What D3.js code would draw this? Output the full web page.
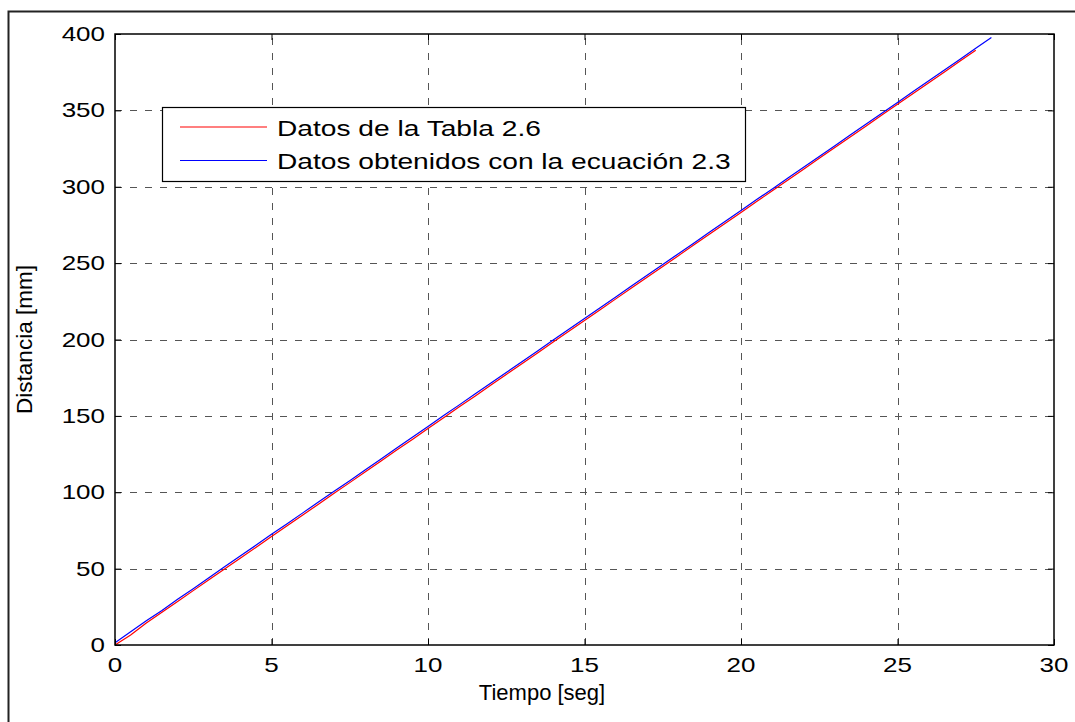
<!DOCTYPE html>
<html>
<head>
<meta charset="utf-8">
<script src="https://cdn.jsdelivr.net/npm/d3@7"></script>
<style>
  body { margin: 0; background: #fff; }
  svg { display: block; font-family: "Liberation Sans", Arial, sans-serif; }
</style>
</head>
<body>
<svg id="chart" width="1075" height="722"></svg>
<script>
// Data
var tiempoTabla = [0, 0.5, 1, 1.5, 2, 2.5, 3, 3.5, 4, 4.5, 5, 5.5, 6, 6.5, 7, 7.5, 8, 8.5, 9, 9.5,
  10, 10.5, 11, 11.5, 12, 12.5, 13, 13.5, 14, 14.5, 15, 15.5, 16, 16.5, 17, 17.5, 18, 18.5, 19, 19.5,
  20, 20.5, 21, 21.5, 22, 22.5, 23, 23.5, 24, 24.5, 25, 25.5, 26, 26.5, 27, 27.5];
var distTabla = [0, 6.5, 14.4, 21.4, 28.5, 35.6, 42.7, 49.7, 56.8, 63.9, 71, 78, 85.1, 92.2, 99.3, 106.3, 113.4, 120.5, 127.6, 134.6,
  141.7, 148.8, 155.9, 162.9, 170, 177.1, 184.2, 191.2, 198.3, 205.4, 212.5, 219.5, 226.6, 233.7, 240.8, 247.8, 254.9, 262, 269.1, 276.1,
  283.2, 290.3, 297.4, 304.4, 311.5, 318.6, 325.7, 332.7, 339.8, 346.9, 354, 361, 368.1, 375.2, 382.3, 389.3];

var tiempoEcuacion = [0, 0.5, 1, 1.5, 2, 2.5, 3, 3.5, 4, 4.5, 5, 5.5, 6, 6.5, 7, 7.5, 8, 8.5, 9, 9.5,
  10, 10.5, 11, 11.5, 12, 12.5, 13, 13.5, 14, 14.5, 15, 15.5, 16, 16.5, 17, 17.5, 18, 18.5, 19, 19.5,
  20, 20.5, 21, 21.5, 22, 22.5, 23, 23.5, 24, 24.5, 25, 25.5, 26, 26.5, 27, 27.5, 28];
var distEcuacion = [1.5, 8.6, 15.8, 22.6, 30, 36.9, 44, 51.2, 58.2, 65.3, 72.5, 79.4, 86.5, 93.6, 100.7, 107.6, 114.8, 121.8, 128.9, 136,
  143, 150.2, 157.2, 164.3, 171.3, 178.4, 185.5, 192.5, 199.6, 206.7, 213.8, 220.8, 227.9, 235, 242, 249.1, 256.2, 263.2, 270.3, 277.4,
  284.5, 291.6, 298.6, 305.7, 312.8, 319.8, 326.9, 334, 341.1, 348.1, 355.2, 362.3, 369.4, 376.4, 383.5, 390.6, 397.7];

var xTicks = [0, 5, 10, 15, 20, 25, 30];
var yTicks = [0, 50, 100, 150, 200, 250, 300, 350, 400];
var legendLabels = ["Datos de la Tabla 2.6", "Datos obtenidos con la ecuación 2.3"];
var seriesColors = ["#ff0000", "#0000ff"];

var svg = d3.select("#chart");
var m = { left: 115, top: 34, right: 1054, bottom: 645 };

// the picture's text is stretched sideways, so text gets a horizontal scale
function label(g, px, py, str, size, anchor, stretch, rot) {
  return g.append("text")
    .attr("transform", "translate(" + px + "," + py + ") scale(" + stretch + ",1)" + (rot ? " rotate(" + rot + ")" : ""))
    .attr("text-anchor", anchor || "start")
    .attr("font-size", size)
    .attr("fill", "#000")
    .text(str);
}

// outer frame
svg.append("rect")
  .attr("x", 8.5).attr("y", 11.5)
  .attr("width", 1100).attr("height", 800)
  .attr("fill", "none").attr("stroke", "#222").attr("stroke-width", 2);

var x = d3.scaleLinear().domain([0, 30]).range([m.left, m.right]);
var y = d3.scaleLinear().domain([0, 400]).range([m.bottom, m.top]);

// grid
var grid = svg.append("g").attr("stroke", "#555").attr("stroke-width", 1).attr("stroke-dasharray", "7,8");
grid.selectAll(".gx").data(xTicks.slice(1, -1)).enter().append("line")
  .attr("x1", function (d) { return Math.round(x(d)) + 0.5; })
  .attr("x2", function (d) { return Math.round(x(d)) + 0.5; })
  .attr("y1", m.bottom).attr("y2", m.top);
grid.selectAll(".gy").data(yTicks.slice(1, -1)).enter().append("line")
  .attr("y1", function (d) { return Math.round(y(d)) + 0.5; })
  .attr("y2", function (d) { return Math.round(y(d)) + 0.5; })
  .attr("x1", m.left).attr("x2", m.right);

// lines
var line = d3.line().x(function (d) { return x(d[0]); }).y(function (d) { return y(d[1]); });
svg.append("path")
  .datum(d3.zip(tiempoTabla, distTabla))
  .attr("d", line).attr("fill", "none").attr("stroke", seriesColors[0]).attr("stroke-width", 1.2);
svg.append("path")
  .datum(d3.zip(tiempoEcuacion, distEcuacion))
  .attr("d", line).attr("fill", "none").attr("stroke", seriesColors[1]).attr("stroke-width", 1.2);

// axes (MATLAB style: ticks inside, box), labels drawn separately so they can be stretched
var tickStyle = function (g) {
  g.select(".domain").remove();
  g.selectAll("text").remove();
  g.selectAll("line").attr("stroke", "#000");
};
svg.append("g").attr("transform", "translate(0," + m.bottom + ")")
  .call(d3.axisBottom(x).tickValues(xTicks).tickSize(-6)).call(tickStyle);
svg.append("g").attr("transform", "translate(" + m.left + ",0)")
  .call(d3.axisLeft(y).tickValues(yTicks).tickSize(-6)).call(tickStyle);
svg.append("g").attr("transform", "translate(0," + m.top + ")")
  .call(d3.axisTop(x).tickValues(xTicks).tickSize(-6)).call(tickStyle);
svg.append("g").attr("transform", "translate(" + m.right + ",0)")
  .call(d3.axisRight(y).tickValues(yTicks).tickSize(-6)).call(tickStyle);

var tickLabels = svg.append("g");
xTicks.forEach(function (d) { label(tickLabels, x(d), 672, String(d), 20, "middle", 1.3); });
yTicks.forEach(function (d) { label(tickLabels, 105, y(d) + 7, String(d), 20, "end", 1.3); });

svg.append("rect")
  .attr("x", m.left).attr("y", m.top)
  .attr("width", m.right - m.left).attr("height", m.bottom - m.top)
  .attr("fill", "none").attr("stroke", "#000").attr("stroke-width", 1.5);

// axis titles
label(svg, 542, 700, "Tiempo [seg]", 22, "middle", 1);
label(svg, 32, (m.top + m.bottom) / 2, "Distancia [mm]", 22.5, "middle", 1, -90);

// legend
var legend = svg.append("g");
legend.append("rect")
  .attr("x", 162.5).attr("y", 107.5).attr("width", 583).attr("height", 74)
  .attr("fill", "#fff").attr("stroke", "#000").attr("stroke-width", 1.2);
legendLabels.forEach(function (lbl, i) {
  var ly = 127 + i * 33.5;
  legend.append("line")
    .attr("x1", 180).attr("x2", 267).attr("y1", ly).attr("y2", ly)
    .attr("stroke", seriesColors[i]).attr("stroke-width", 1.2);
  label(legend, 277, ly + 8.5, lbl, 22, "start", 1.28);
});
</script>
</body>
</html>
